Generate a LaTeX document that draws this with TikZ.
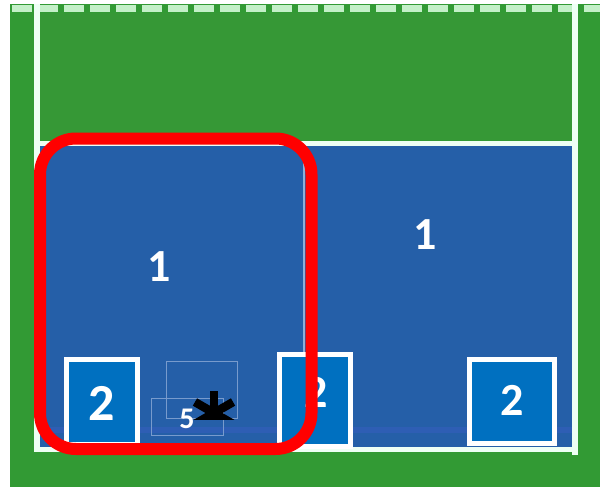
\documentclass[tikz,border=0pt]{standalone}
\usepackage{fontspec}
\setmainfont{Carlito}
\definecolor{grn}{RGB}{50,154,52}
\definecolor{grnin}{RGB}{54,152,54}
\definecolor{wln}{RGB}{238,255,244}
\definecolor{dashc}{RGB}{196,240,200}
\definecolor{blu}{RGB}{37,95,168}
\definecolor{sbox}{RGB}{0,112,192}
\definecolor{faint}{RGB}{120,155,205}
\definecolor{band}{RGB}{46,94,180}
\begin{document}
\begin{tikzpicture}[x=1pt,y=-1pt,
  wline/.style={draw=wln,line width=6pt},
  numbox/.style={draw=white,line width=5pt,fill=sbox},
  lbl/.style={text=white,font=\bfseries\fontsize{46}{46}\selectfont,inner sep=0pt},
  faintbox/.style={draw=faint,line width=0.8pt}]
\useasboundingbox (0,0) rectangle (600,487);
\fill[white] (0,0) rectangle (600,487);
\fill[grn] (10,4) rectangle (600,487);
\fill[grnin] (40,13) rectangle (572,140);
% blue areas
\fill[blu] (40,146) rectangle (572,447);
\fill[band] (40,427) rectangle (572,433);
\draw[draw={rgb,255:red,140;green,176;blue,216},line width=2pt] (304,146) -- (304,447);
% white frame
\draw[dashc,line width=7pt,dash pattern=on 20pt off 6pt] (12,9) -- (600,9);
\draw[wline] (37,4) -- (37,452);
\draw[wline] (575,4) -- (575,455);
\draw[wline,line width=5pt] (34,449.5) -- (578,449.5);
\draw[wline,line width=5pt] (34,143) -- (578,143);
% labels 1
\node[lbl] (one1) at (159,267) {1};
\node[lbl] (one2) at (425,235) {1};
% faint boxes
\draw[faintbox] (166,361) rectangle (237,418);
\draw[faintbox] (151,398) rectangle (223,435);
% small boxes
\draw[numbox] (66,359.5) rectangle (137,444);
\node[lbl,font=\bfseries\fontsize{52}{52}\selectfont] (two1) at (101.5,403) {2};
\draw[numbox] (279,354) rectangle (350,446);
\node[lbl] (two2) at (316,392) {2};
\draw[numbox] (469,359) rectangle (554.5,443.5);
\node[lbl] (two3) at (512,400.5) {2};
% red rounded rectangle
\draw[red,line width=12pt,rounded corners=36pt] (40,138.5) rectangle (311.5,449);
% five and asterisk
\node[text=white,font=\bfseries\fontsize{30}{30}\selectfont,inner sep=0pt] (five) at (187,419) {5};
\begin{scope}
\clip (166,361) rectangle (237,419);
\foreach \a in {90,30,150}
  \draw[black,line width=8.5pt] (214,413) ++(\a:-22) -- ++(\a:44);
\end{scope}
\end{tikzpicture}
\end{document}
